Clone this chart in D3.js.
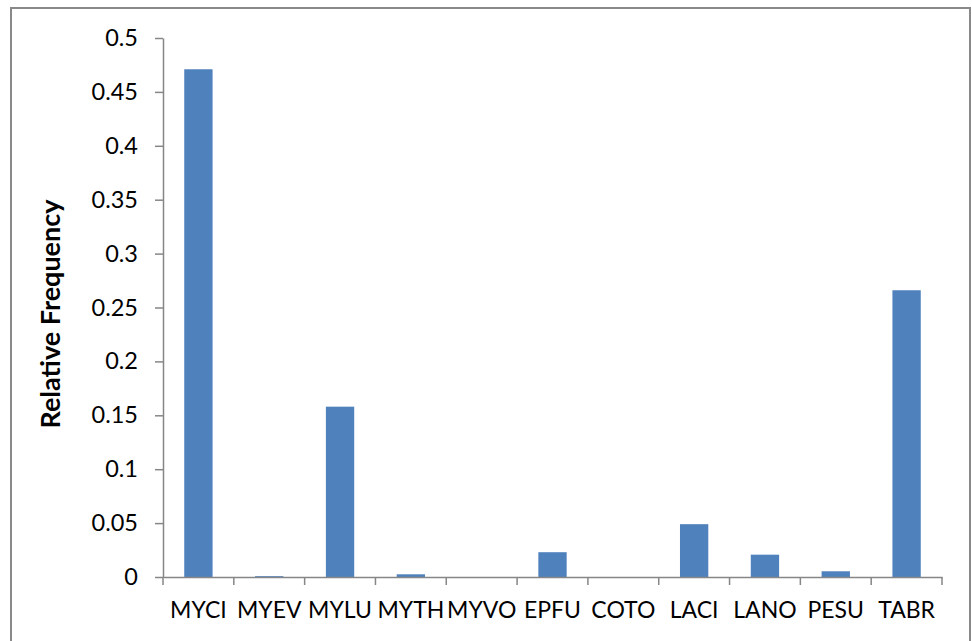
<!DOCTYPE html>
<html><head><meta charset="utf-8">
<script src="https://cdn.jsdelivr.net/npm/d3@7"></script>
<style>body{margin:0;background:#fff;} svg{display:block;}</style>
</head><body>
<svg id="c" width="972" height="641"></svg>
<script>
const categories = ["MYCI","MYEV","MYLU","MYTH","MYVO","EPFU","COTO","LACI","LANO","PESU","TABR"];
const values = [0.471, 0.0008, 0.158, 0.0025, 0, 0.023, 0, 0.049, 0.0207, 0.0053, 0.266];
const yTicks = [0,0.05,0.1,0.15,0.2,0.25,0.3,0.35,0.4,0.45,0.5];
const yTitle = "Relative Frequency";

(function(){
const svg = d3.select("#c");
const pL = 163, pR = 942, pT = 38, pB = 577;
const font = "Lato, 'Open Sans', sans-serif";
const gray = "#868686";

svg.append("rect").attr("x", 11).attr("y", 8).attr("width", 959).attr("height", 650)
  .attr("fill", "#fff").attr("stroke", "#898989").attr("stroke-width", 2);

const xb = d3.scaleBand().domain(categories).range([pL, pR]);
const y = d3.scaleLinear().domain([0, 0.5]).range([pB, pT]);
const bw = xb.bandwidth() / 2.5;

svg.append("g").selectAll("rect").data(values).join("rect")
  .attr("x", (d,i) => xb(categories[i]) + (xb.bandwidth() - bw)/2)
  .attr("width", bw)
  .attr("y", d => y(d))
  .attr("height", d => y(0) - y(d))
  .attr("fill", "#4f81bd");

const ya = svg.append("g").attr("transform", `translate(${pL},0)`)
  .call(d3.axisLeft(y).tickValues(yTicks).tickSize(8).tickSizeOuter(0).tickPadding(10).tickFormat(d => String(+d.toFixed(2))));
ya.select(".domain").attr("stroke", gray).attr("stroke-width", 1.5);
ya.selectAll(".tick line").attr("stroke", gray).attr("stroke-width", 1.5);
ya.selectAll(".tick text").attr("font-family", font).attr("font-size", 23.5).attr("fill", "#000").attr("x", -25);

const xa = svg.append("g").attr("transform", `translate(0,${pB})`)
  .call(d3.axisBottom(xb).tickSize(0).tickSizeOuter(0).tickPadding(25));
xa.select(".domain").attr("stroke", gray).attr("stroke-width", 1.5);
xa.selectAll(".tick text").attr("font-family", font).attr("font-size", 23).attr("fill", "#000");
const bounds = categories.map(c => xb(c)).concat([pR]);
xa.append("g").selectAll("line").data(bounds).join("line")
  .attr("x1", d => d).attr("x2", d => d).attr("y1", 0).attr("y2", 8)
  .attr("stroke", gray).attr("stroke-width", 1.5);

svg.append("text").attr("transform", `translate(60,${314}) rotate(-90)`)
  .attr("text-anchor", "middle").attr("font-family", font).attr("font-weight", "bold")
  .attr("font-size", 27).text(yTitle);
})();
</script>
</body></html>
